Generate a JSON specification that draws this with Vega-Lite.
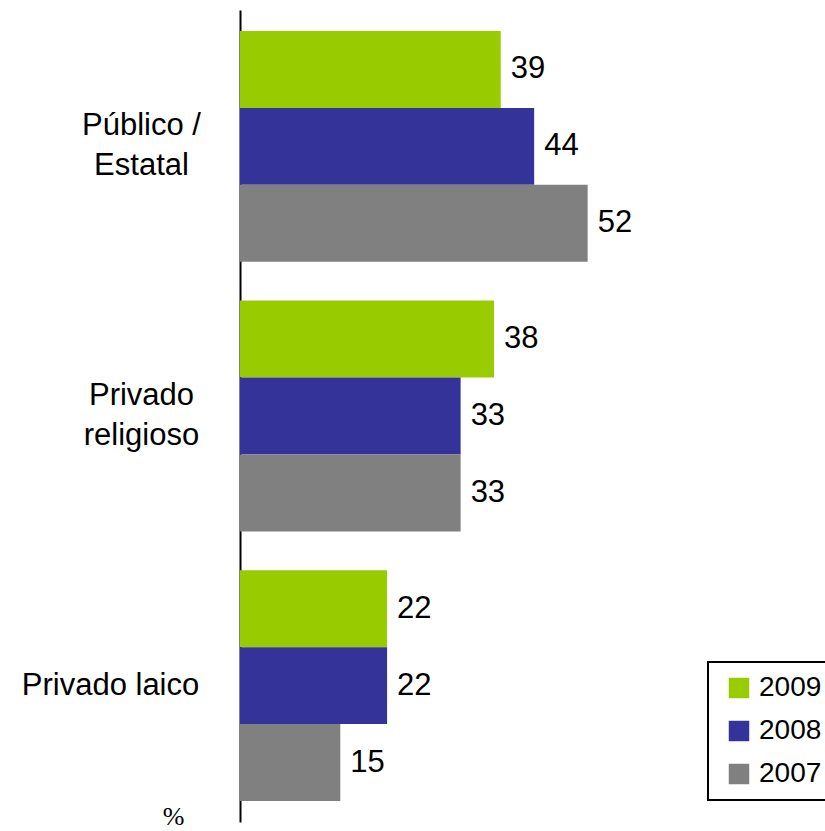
{
  "$schema": "https://vega.github.io/schema/vega-lite/v6.json",
  "autosize": "none",
  "width": 585,
  "height": 812,
  "padding": {"left": 240, "top": 10, "right": 0, "bottom": 9},
  "background": "white",
  "config": {"view": {"stroke": null}, "font": "Liberation Sans"},
  "data": {"values": [
    {"cat": "Público / Estatal", "year": "2009", "value": 39},
    {"cat": "Público / Estatal", "year": "2008", "value": 44},
    {"cat": "Público / Estatal", "year": "2007", "value": 52},
    {"cat": "Privado religioso", "year": "2009", "value": 38},
    {"cat": "Privado religioso", "year": "2008", "value": 33},
    {"cat": "Privado religioso", "year": "2007", "value": 33},
    {"cat": "Privado laico", "year": "2009", "value": 22},
    {"cat": "Privado laico", "year": "2008", "value": 22},
    {"cat": "Privado laico", "year": "2007", "value": 15}
  ]},
  "encoding": {
    "y": {
      "field": "cat", "type": "nominal",
      "sort": ["Público / Estatal", "Privado religioso", "Privado laico"],
      "scale": {"paddingInner": 0.144, "paddingOuter": 0.078},
      "axis": {
        "title": null, "ticks": false, "grid": false,
        "domainColor": "black", "domainWidth": 2,
        "labelFont": "Liberation Sans", "labelFontSize": 31, "labelColor": "black",
        "labelAlign": "center", "labelBaseline": "middle",
        "labelLineHeight": 40, "labelLimit": 300,
        "labelPadding": {"condition": {"test": "datum.value == 'Privado laico'", "value": 130}, "value": 99},
        "labelOffset": {"condition": {"test": "datum.value == 'Privado laico'", "value": 0}, "value": -20},
        "labelExpr": "datum.value == 'Público / Estatal' ? ['Público /', 'Estatal'] : datum.value == 'Privado religioso' ? ['Privado', 'religioso'] : datum.value"
      }
    },
    "yOffset": {
      "field": "year", "type": "nominal",
      "sort": ["2009", "2008", "2007"],
      "scale": {"paddingInner": 0, "paddingOuter": 0}
    },
    "x": {
      "field": "value", "type": "quantitative",
      "scale": {"domain": [0, 87.5], "nice": false},
      "axis": {
        "title": "%", "labels": false, "ticks": false, "domain": false, "grid": false,
        "titleFont": "Liberation Serif", "titleFontSize": 26, "titleFontWeight": "normal", "titleColor": "black",
        "titleX": -67, "titleY": 2, "titleAlign": "center", "titleBaseline": "alphabetic", "titleAnchor": null
      }
    }
  },
  "layer": [
    {
      "mark": {"type": "bar"},
      "encoding": {
        "color": {
          "field": "year", "type": "nominal",
          "scale": {"domain": ["2009", "2008", "2007"], "range": ["#99CC00", "#333399", "#808080"]},
          "legend": {
            "orient": "none", "legendX": 468, "legendY": 652,
            "title": null,
            "strokeColor": "black",
            "padding": 12,
            "symbolType": "square", "symbolSize": 420, "symbolStrokeWidth": 0, "symbolOpacity": 1,
            "symbolOffset": 5,
            "labelFont": "Liberation Sans", "labelFontSize": 28, "labelColor": "black", "labelOffset": 6,
            "rowPadding": 15,
            "encode": {"legend": {"update": {"strokeWidth": {"value": 2}}}}
          }
        }
      }
    },
    {
      "mark": {"type": "text", "align": "left", "baseline": "middle", "dx": 10, "fontSize": 31, "font": "Liberation Sans", "color": "black"},
      "encoding": {"text": {"field": "value", "type": "quantitative"}}
    }
  ]
}
